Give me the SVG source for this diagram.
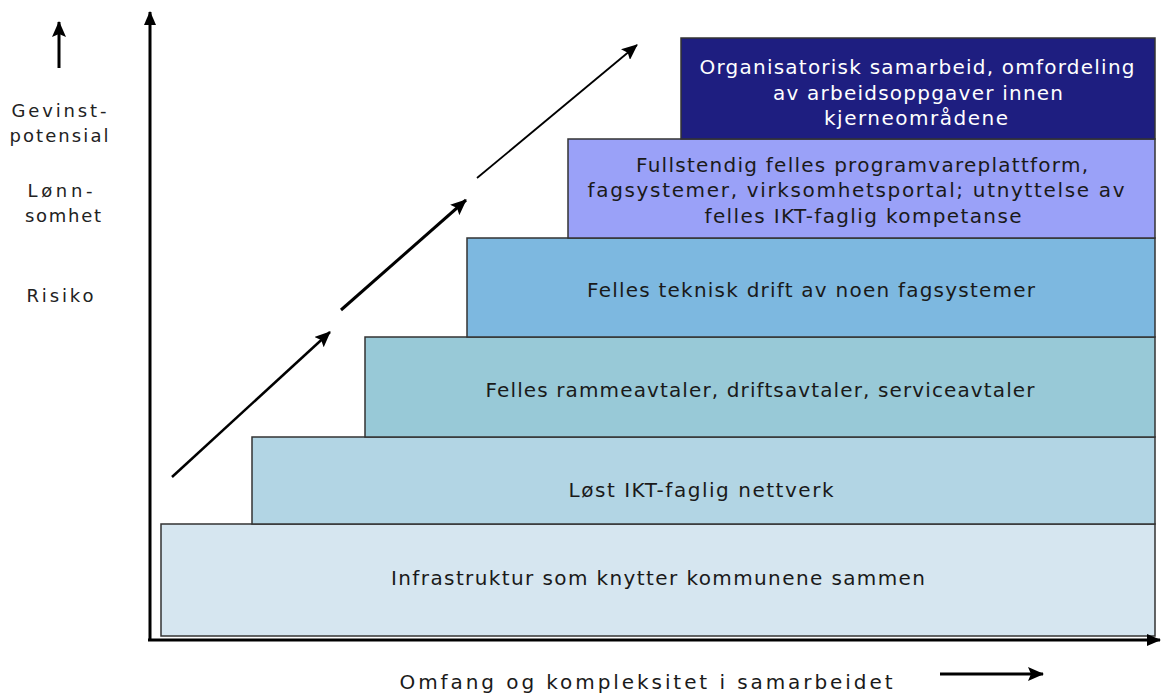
<svg xmlns="http://www.w3.org/2000/svg" width="1161" height="695" viewBox="0 0 1161 695">
<style>
text{font-family:"DejaVu Sans","Verdana",sans-serif;font-size:20px;fill:#1a1a1a;text-anchor:middle}
.lbl{font-size:18px;fill:#222}
.w{fill:#ffffff}
.box{stroke:#333;stroke-width:1.5}
.ax{stroke:#000;stroke-width:3;fill:none}
.dg{stroke:#000;fill:none}
</style>
<defs>
<marker id="ah" viewBox="0 0 16 14" refX="15" refY="7" markerWidth="16" markerHeight="14" orient="auto" markerUnits="userSpaceOnUse"><path d="M0,0 L16,7 L0,14 L3,7 Z" fill="#000"/></marker>
<marker id="ahx" viewBox="0 0 14 12" refX="13" refY="6" markerWidth="14" markerHeight="12" orient="auto" markerUnits="userSpaceOnUse"><path d="M0,0 L14,6 L0,12 Z" fill="#000"/></marker>
</defs>
<rect width="1161" height="695" fill="#fff"/>
<g id="n1"><rect class="box" x="161" y="524" width="994" height="112" fill="#d6e6f0"/><text x="658" y="585" textLength="534" lengthAdjust="spacing">Infrastruktur som knytter kommunene sammen</text></g>
<g id="n2"><rect class="box" x="252" y="437" width="903" height="87" fill="#b2d5e4"/><text x="701" y="497" textLength="265" lengthAdjust="spacing">Løst IKT-faglig nettverk</text></g>
<g id="n3"><rect class="box" x="365" y="337" width="790" height="100" fill="#98c9d7"/><text x="760" y="397" textLength="549" lengthAdjust="spacing">Felles rammeavtaler, driftsavtaler, serviceavtaler</text></g>
<g id="n4"><rect class="box" x="467" y="238" width="688" height="99" fill="#7db8e0"/><text x="811" y="297" textLength="448" lengthAdjust="spacing">Felles teknisk drift av noen fagsystemer</text></g>
<g id="n5"><rect class="box" x="568" y="139" width="587" height="99" fill="#9aa1f8"/><text x="862" y="172" textLength="452" lengthAdjust="spacing">Fullstendig felles programvareplattform,</text><text x="856" y="197" textLength="537" lengthAdjust="spacing">fagsystemer, virksomhetsportal; utnyttelse av</text><text x="863" y="223" textLength="317" lengthAdjust="spacing">felles IKT-faglig kompetanse</text></g>
<g id="n6"><rect class="box" x="681" y="38" width="474" height="101" fill="#1e1e80"/><text class="w" x="917" y="74" textLength="435" lengthAdjust="spacing">Organisatorisk samarbeid, omfordeling</text><text class="w" x="918" y="100" textLength="290" lengthAdjust="spacing">av arbeidsoppgaver innen</text><text class="w" x="916" y="125" textLength="184" lengthAdjust="spacing">kjerneområdene</text></g>
<g id="connectors">
<line class="ax" x1="150" y1="641" x2="150" y2="12" marker-end="url(#ahx)"/>
<line class="ax" x1="148" y1="640" x2="1160" y2="640" marker-end="url(#ahx)"/>
<line class="dg" x1="172" y1="477" x2="330" y2="332" stroke-width="2.5" marker-end="url(#ah)"/>
<line class="dg" x1="341" y1="310" x2="466" y2="200" stroke-width="3" marker-end="url(#ah)"/>
<line class="dg" x1="477" y1="178" x2="637" y2="45" stroke-width="1.8" marker-end="url(#ah)"/>
<line class="ax" x1="59" y1="68" x2="59" y2="22" marker-end="url(#ah)" stroke-width="2.5"/>
<line class="ax" x1="940" y1="674" x2="1043" y2="674" marker-end="url(#ah)" stroke-width="2.5"/>
</g>
<g id="labels">
<text class="lbl" x="59" y="117" textLength="95" lengthAdjust="spacing">Gevinst-</text>
<text class="lbl" x="59" y="142" textLength="99" lengthAdjust="spacing">potensial</text>
<text class="lbl" x="60" y="197" textLength="65" lengthAdjust="spacing">Lønn-</text>
<text class="lbl" x="63" y="222" textLength="76" lengthAdjust="spacing">somhet</text>
<text class="lbl" x="60" y="302" textLength="67" lengthAdjust="spacing">Risiko</text>
<text x="646" y="689" textLength="493" lengthAdjust="spacing">Omfang og kompleksitet i samarbeidet</text>
</g>
</svg>
